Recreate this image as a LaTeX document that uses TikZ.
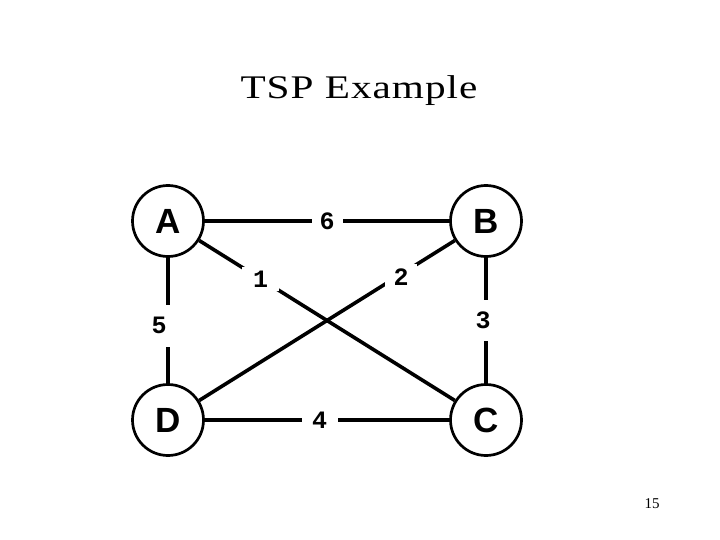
\documentclass[tikz,border=0pt]{standalone}
\usepackage{fontspec}
\setmainfont{Liberation Serif}
\newfontfamily\titlefont[FakeStretch=1.25, LetterSpace=3]{Liberation Serif}
\newfontfamily\monofont{Liberation Mono}
\newfontfamily\cityfont{Liberation Sans}

\begin{document}
\begin{tikzpicture}[x=1pt, y=-1pt,
    city/.style={circle, draw, line width=2.7pt, minimum size=71pt, inner sep=0pt,
        font=\cityfont\bfseries\fontsize{35}{35}\selectfont},
    side/.style={line width=4.5pt},
    diag/.style={line width=3.6pt},
    wt/.style={fill=white, inner sep=0pt, font=\monofont\bfseries\fontsize{25}{25}\selectfont}]
    \useasboundingbox (0,0) rectangle (720,540);
    % Title
    \node[anchor=base, font=\titlefont\fontsize{33}{40}\selectfont] (title) at (359,99) {TSP Example};
    % Cities
    \foreach \n/\x/\y in {A/168/221, B/486/221, C/486/420, D/168/420}
        \node[city] (\n) at (\x,\y) {\n};
    % Sides of the square with their costs
    \foreach \u/\v/\w/\p/\dx/\bw/\bh in {
        A/B/6/0.5/0/31/20,
        D/C/4/0.47/0/36/20,
        A/D/5/0.54/-9/36/42,
        B/C/3/0.5/-3/36/41
    } {
        \draw[side] (\u) -- node[wt, pos=\p, xshift=\dx pt, minimum width=\bw pt, minimum height=\bh pt] {\w} (\v);
    }
    % Diagonals
    \draw[diag] (A) -- node[wt, pos=0.24, minimum width=37pt, minimum height=24pt] {1} (C);
    \draw[diag] (B) -- node[wt, pos=0.21, yshift=-3pt, minimum width=32pt, minimum height=26pt] {2} (D);
    % Slide number
    \node[font=\fontsize{15}{15}\selectfont] (num) at (652,504) {15};
\end{tikzpicture}
\end{document}
